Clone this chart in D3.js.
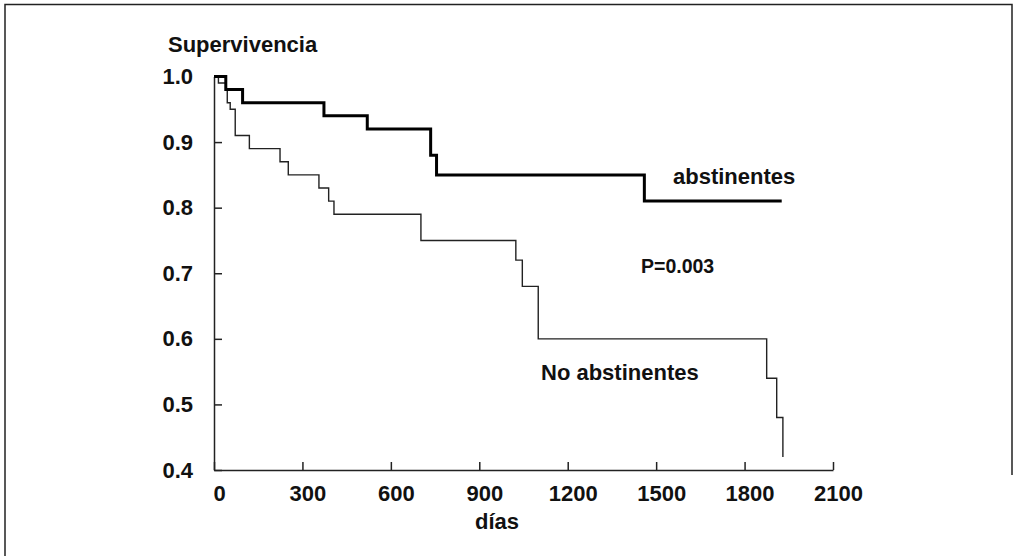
<!DOCTYPE html>
<html>
<head>
<meta charset="utf-8">
<script src="https://cdn.jsdelivr.net/npm/d3@7"></script>
<style>
  html, body { margin: 0; padding: 0; background: #fff; }
  svg { display: block; }
  text { font-family: "Liberation Sans", Arial, sans-serif; font-weight: bold; fill: #111; }
</style>
</head>
<body>
<svg id="chart" width="1017" height="556"></svg>
<script>
// Data (days, survival)
const abstinentesDays   = [0, 40, 97, 373, 520, 735, 755, 1460, 1926];
const abstinentesSurv   = [1.0, 0.98, 0.96, 0.94, 0.92, 0.88, 0.85, 0.81, 0.81];
const noAbstDays        = [0, 15, 40, 45, 55, 72, 120, 224, 252, 356, 389, 407, 702, 1024, 1046, 1100, 1875, 1909, 1930];
const noAbstSurv        = [1.0, 0.99, 0.98, 0.96, 0.95, 0.91, 0.89, 0.87, 0.85, 0.83, 0.81, 0.79, 0.75, 0.72, 0.68, 0.60, 0.54, 0.48, 0.42];
const xTicks = [0, 300, 600, 900, 1200, 1500, 1800, 2100];
const yTicks = [0.4, 0.5, 0.6, 0.7, 0.8, 0.9, 1.0];
const yTickLabels = ["0.4", "0.5", "0.6", "0.7", "0.8", "0.9", "1.0"];

const svg = d3.select("#chart");

// frame
svg.append("path")
  .attr("d", "M5,556 L5,4.5 L1012,4.5 L1012,475")
  .attr("fill", "none").attr("stroke", "#222").attr("stroke-width", 1.5);

const x = d3.scaleLinear().domain([0, 2100]).range([214, 833]);
const y = d3.scaleLinear().domain([0.4, 1.0]).range([470, 76.5]);

// X axis
const gx = svg.append("g").attr("transform", `translate(0,${y(0.4)})`)
  .call(d3.axisBottom(x).tickValues(xTicks).tickSizeInner(-8).tickSizeOuter(0).tickFormat(d3.format("d")));
gx.select(".domain").attr("stroke", "#222").attr("stroke-width", 1.5);
gx.selectAll(".tick line").attr("stroke", "#222").attr("stroke-width", 1.5);
gx.selectAll(".tick text")
  .attr("y", 31).attr("dy", 0).attr("dx", 5)
  .style("font-size", "22px").style("font-family", "'Liberation Sans', Arial, sans-serif").style("font-weight", "bold").attr("fill", "#111");

// Y axis
const gy = svg.append("g").attr("transform", `translate(${x(0)},0)`)
  .call(d3.axisLeft(y).tickValues(yTicks).tickSizeInner(-8).tickSizeOuter(0).tickFormat((d, i) => yTickLabels[i]));
gy.select(".domain").attr("stroke", "#222").attr("stroke-width", 1.5);
gy.selectAll(".tick line").attr("stroke", "#222").attr("stroke-width", 1.5);
gy.selectAll(".tick text")
  .attr("x", -21).attr("dy", 0).attr("y", 7)
  .style("font-size", "22px").style("font-family", "'Liberation Sans', Arial, sans-serif").style("font-weight", "bold").attr("fill", "#111");

// Curves
const step = d3.line().x(d => x(d[0])).y(d => y(d[1])).curve(d3.curveStepAfter);
const abst = abstinentesDays.map((d, i) => [d, abstinentesSurv[i]]);
const noAbst = noAbstDays.map((d, i) => [d, noAbstSurv[i]]);

svg.append("path").datum(noAbst).attr("d", step)
  .attr("fill", "none").attr("stroke", "#222").attr("stroke-width", 1.4);
svg.append("path").datum(abst).attr("d", step)
  .attr("fill", "none").attr("stroke", "#000").attr("stroke-width", 3);

// Labels
svg.append("text").attr("x", 168).attr("y", 52).style("font-size", "22px").text("Supervivencia");
svg.append("text").attr("x", 673).attr("y", 184).style("font-size", "22px").text("abstinentes");
svg.append("text").attr("x", 641).attr("y", 273).style("font-size", "19.5px").text("P=0.003");
svg.append("text").attr("x", 541).attr("y", 380).style("font-size", "22px").text("No abstinentes");
svg.append("text").attr("x", 475).attr("y", 529).style("font-size", "22px").text("días");
</script>
</body>
</html>
